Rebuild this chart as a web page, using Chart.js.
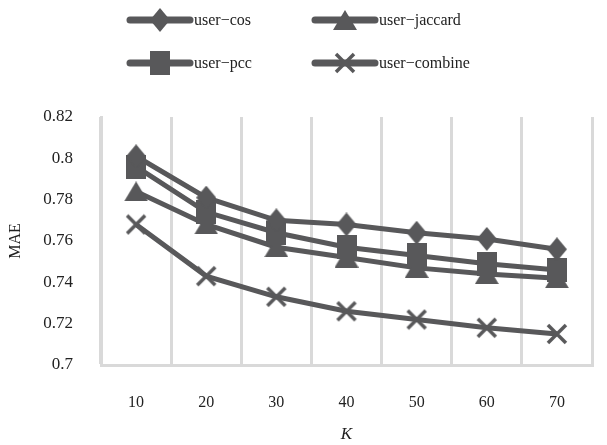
<!DOCTYPE html>
<html>
<head>
<meta charset="utf-8">
<script src="https://cdn.jsdelivr.net/npm/chart.js@4.4.1/dist/chart.umd.min.js"></script>
<style>
  html, body { margin: 0; padding: 0; background: #ffffff; }
  #wrap { width: 607px; height: 445px; position: relative; }
</style>
</head>
<body>
<div id="wrap"><canvas id="c" width="607" height="445"></canvas></div>
<script>
// ---- data ----
const categories = ['10', '20', '30', '40', '50', '60', '70'];
const userCos = [0.801, 0.781, 0.770, 0.768, 0.764, 0.761, 0.756];
const userPcc = [0.796, 0.774, 0.764, 0.757, 0.753, 0.749, 0.746];
const userJaccard = [0.784, 0.768, 0.757, 0.752, 0.747, 0.744, 0.742];
const userCombine = [0.768, 0.743, 0.733, 0.726, 0.722, 0.718, 0.715];
const seriesNames = ['user\u2212cos', 'user\u2212pcc', 'user\u2212jaccard', 'user\u2212combine'];
const yTicks = [0.7, 0.72, 0.74, 0.76, 0.78, 0.8, 0.82];

const INK = '#58585a';
const SERIF = '"Liberation Serif", "Times New Roman", serif';

function makeMarker(type) {
  const c = document.createElement('canvas');
  let w, h;
  if (type === 'diamond') { w = 20; h = 24; }
  else if (type === 'square') { w = 20; h = 24; }
  else if (type === 'triangle') { w = 24; h = 20; }
  else { w = 22; h = 22; }
  c.width = w; c.height = h;
  const g = c.getContext('2d');
  g.fillStyle = INK; g.strokeStyle = INK;
  g.beginPath();
  if (type === 'diamond') {
    g.moveTo(w / 2, 0); g.lineTo(w, h / 2); g.lineTo(w / 2, h); g.lineTo(0, h / 2); g.closePath(); g.fill();
  } else if (type === 'square') {
    g.rect(0, 0, w, h); g.fill();
  } else if (type === 'triangle') {
    g.moveTo(w / 2, 0); g.lineTo(w, h); g.lineTo(0, h); g.closePath(); g.fill();
  } else {
    g.lineWidth = 3.5; g.lineCap = 'butt';
    g.moveTo(2, 2); g.lineTo(w - 2, h - 2); g.moveTo(w - 2, 2); g.lineTo(2, h - 2); g.stroke();
  }
  return c;
}
const markers = [makeMarker('diamond'), makeMarker('square'), makeMarker('triangle'), makeMarker('x')];

function ds(label, data, marker) {
  return {
    label: label, data: data,
    borderColor: INK, backgroundColor: INK, borderWidth: 5,
    pointStyle: marker, pointRadius: 10, pointHoverRadius: 10,
    tension: 0, fill: false
  };
}

const legendPlugin = {
  id: 'customLegend',
  afterDraw(chart) {
    const ctx = chart.ctx;
    const slots = [
      { i: 0, x: 127, y: 20 }, { i: 2, x: 312, y: 20 },
      { i: 1, x: 127, y: 63 }, { i: 3, x: 312, y: 63 }
    ];
    ctx.save();
    slots.forEach(s => {
      const d = chart.data.datasets[s.i];
      ctx.strokeStyle = INK; ctx.lineWidth = 7; ctx.lineCap = 'round';
      ctx.beginPath(); ctx.moveTo(s.x + 3, s.y); ctx.lineTo(s.x + 63, s.y); ctx.stroke();
      const m = d.pointStyle;
      ctx.drawImage(m, s.x + 33 - m.width / 2, s.y - m.height / 2);
      ctx.fillStyle = '#222222';
      ctx.font = '16px ' + SERIF;
      ctx.textBaseline = 'middle'; ctx.textAlign = 'left';
      ctx.fillText(d.label, s.x + 67, s.y + 1);
    });
    ctx.restore();
  }
};

new Chart(document.getElementById('c'), {
  type: 'line',
  data: {
    labels: categories,
    datasets: [
      ds(seriesNames[0], userCos, markers[0]),
      ds(seriesNames[1], userPcc, markers[1]),
      ds(seriesNames[2], userJaccard, markers[2]),
      ds(seriesNames[3], userCombine, markers[3])
    ]
  },
  options: {
    responsive: false,
    animation: false,
    layout: { padding: { top: 117, right: 1, left: 0, bottom: 0 } },
    plugins: { legend: { display: false }, tooltip: { enabled: false } },
    scales: {
      x: {
        offset: true,
        grid: { offset: true, color: '#d9d9d9', lineWidth: 3, drawTicks: false },
        border: { display: true, color: '#d9d9d9', width: 3 },
        ticks: { color: '#222222', font: { family: SERIF, size: 16 }, padding: 28 },
        title: { display: true, text: 'K', color: '#222222', font: { family: SERIF, size: 17, style: 'italic' }, padding: { top: 14, bottom: 0 } },
        afterFit(s) { s.height = 80; }
      },
      y: {
        min: 0.7, max: 0.82,
        afterBuildTicks(s) { s.ticks = yTicks.map(v => ({ value: v })); },
        grid: { display: false, drawTicks: false },
        border: { display: true, color: '#d9d9d9', width: 3 },
        ticks: {
          color: '#222222', font: { family: SERIF, size: 17 }, padding: 28,
          callback: v => String(Number(v.toFixed(2)))
        },
        title: { display: true, text: 'MAE', color: '#222222', font: { family: SERIF, size: 16 }, padding: { top: 6, bottom: 0 } },
        afterFit(s) { s.width = 101; }
      }
    }
  },
  plugins: [legendPlugin]
});
</script>
</body>
</html>
